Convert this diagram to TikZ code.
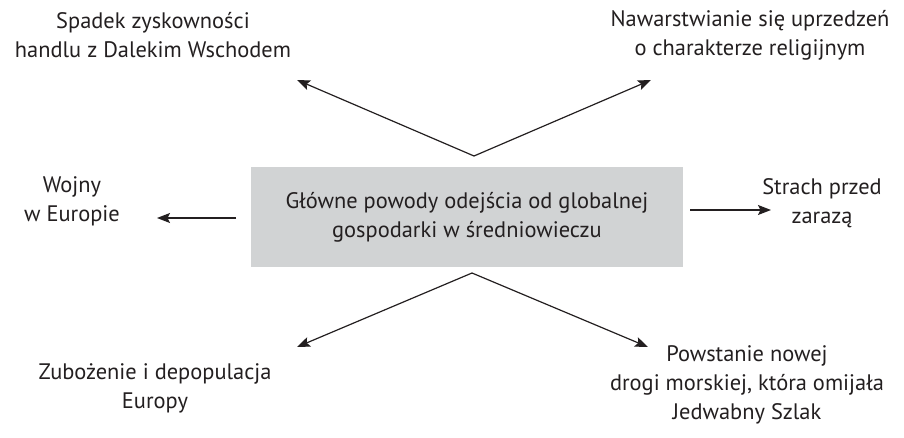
\documentclass[tikz,border=0pt]{standalone}
\usepackage{fontspec}
\setmainfont{PT Sans}
\usetikzlibrary{arrows.meta}
\definecolor{txt}{HTML}{231F20}
\definecolor{boxgray}{HTML}{D1D3D4}
\begin{document}
\begin{tikzpicture}[x=1bp,y=-1bp,
  lbl/.style={text=txt,align=center,font=\fontsize{22.5}{29}\selectfont,inner sep=0pt},
  conn/.style={draw=txt,line width=1.2bp,-{Stealth[length=13bp,width=10bp,inset=2.5bp]}}]
\useasboundingbox (0,0) rectangle (904,438);
\node[fill=boxgray,minimum width=432bp,minimum height=100bp,inner sep=0pt] (box) at (467,217) {};
\node[lbl] (boxt) at (467,217) {Główne powody odejścia od globalnej\\gospodarki w średniowieczu};
\node[lbl] (tl) at (153,35) {Spadek zyskowności\\handlu z Dalekim Wschodem};
\node[lbl] (tr) at (750,35) {Nawarstwianie się uprzedzeń\\o charakterze religijnym};
\node[lbl] (l) at (72,201) {Wojny\\w Europie};
\node[lbl] (r) at (822,203) {Strach przed\\zarazą};
\node[lbl] (bl) at (155,388) {Zubożenie i depopulacja\\Europy};
\node[lbl] (br) at (747,385) {Powstanie nowej\\drogi morskiej, która omijała\\Jedwabny Szlak};
\coordinate (topapex) at (474,156);
\coordinate (botapex) at (472,273);
\coordinate (tltip) at (297,80);
\coordinate (trtip) at (651,80);
\coordinate (bltip) at (297,347);
\coordinate (brtip) at (648,347);
\coordinate (lstart) at (236,218);
\coordinate (ltip) at (157,218);
\coordinate (rstart) at (690,210);
\coordinate (rtip) at (771,210);
\draw[conn] (topapex) -- (tltip);
\draw[conn] (topapex) -- (trtip);
\draw[conn] (botapex) -- (bltip);
\draw[conn] (botapex) -- (brtip);
\draw[conn] (lstart) -- (ltip);
\draw[conn] (rstart) -- (rtip);
\end{tikzpicture}
\end{document}
